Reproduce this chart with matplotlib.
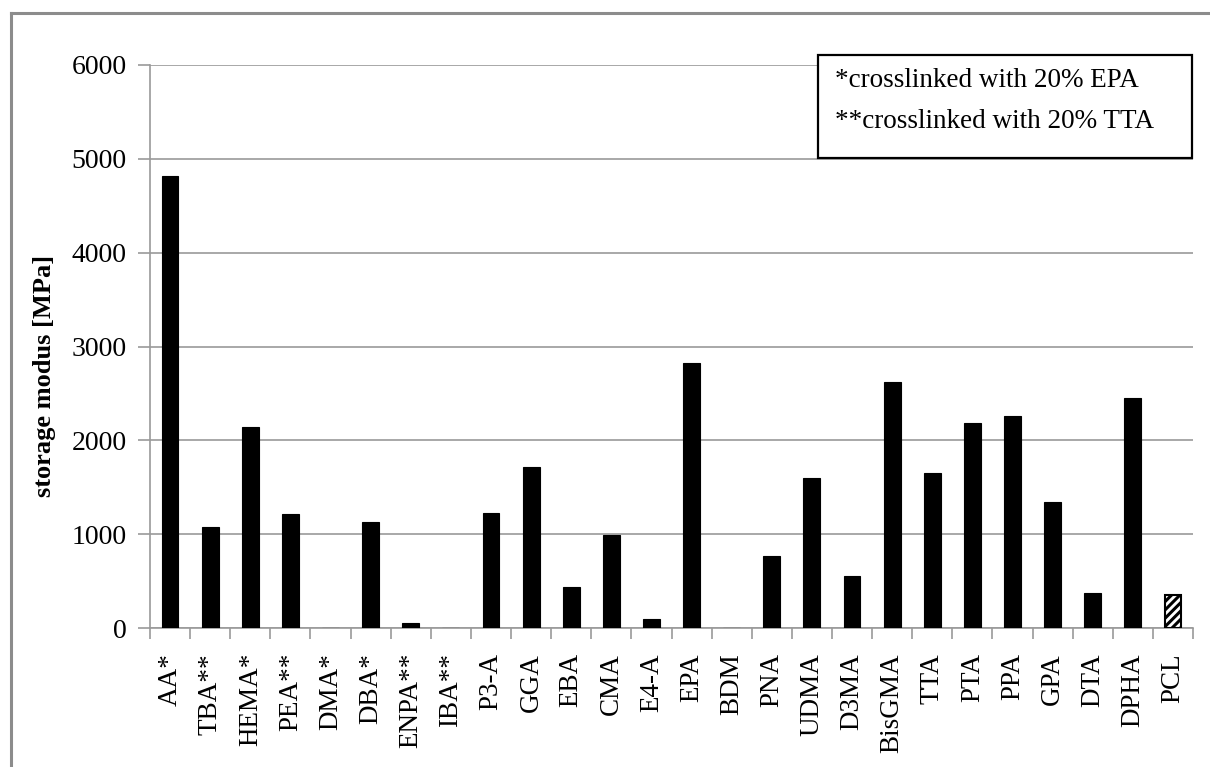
import matplotlib
matplotlib.use("Agg")
import matplotlib.pyplot as plt
from matplotlib.patches import Rectangle
from matplotlib.lines import Line2D
import numpy as np

plt.rcParams["font.family"] = ["Liberation Serif", "DejaVu Serif"]
plt.rcParams["hatch.linewidth"] = 2.2

# Storage modulus per monomer (MPa)
categories = ["AA*", "TBA**", "HEMA*", "PEA**", "DMA*", "DBA*", "ENPA**", "IBA**",
              "P3-A", "GGA", "EBA", "CMA", "E4-A", "EPA", "BDM", "PNA", "UDMA",
              "D3MA", "BisGMA", "TTA", "PTA", "PPA", "GPA", "DTA", "DPHA", "PCL"]
modulus = [4820, 1080, 2140, 1220, 0, 1130, 55, 0,
           1230, 1720, 435, 995, 95, 2820, 0, 770, 1600,
           550, 2620, 1650, 2180, 2260, 1340, 370, 2450, 350]
hatched = ["PCL"]
yticks = [0, 1000, 2000, 3000, 4000, 5000, 6000]
legend_lines = ["*crosslinked with 20% EPA", "**crosslinked with 20% TTA"]
ylabel = "storage modus [MPa]"

W, H = 1210, 767
fig = plt.figure(figsize=(W / 100, H / 100), dpi=100)
ax = fig.add_axes([150 / W, 1 - 628 / H, (1193 - 150) / W, (628 - 65) / H])

grey = "#9a9a9a"
x = np.arange(len(categories))
for xi, cat, val in zip(x, categories, modulus):
    if cat in hatched:
        ax.bar(xi, val, width=0.42, color="white", edgecolor="black",
               hatch="////", linewidth=1.5, zorder=3)
    else:
        ax.bar(xi, val, width=0.42, color="black", edgecolor="black",
               linewidth=0.8, zorder=3)

ax.set_xlim(-0.5, len(categories) - 0.5)
ax.set_ylim(0, 6000)
ax.set_yticks(yticks)
ax.set_yticklabels([str(v) for v in yticks], fontsize=20)
ax.yaxis.grid(True, color=grey, linewidth=1.2, zorder=0)
ax.set_axisbelow(True)

ax.set_xticks(x)
ax.set_xticklabels(categories, rotation=90, fontsize=19.5, va="top")
ax.set_xticks(np.arange(len(categories) + 1) - 0.5, minor=True)
ax.tick_params(axis="x", which="major", length=0, pad=18)
ax.tick_params(axis="x", which="minor", length=8, color=grey, width=1.2)
ax.tick_params(axis="y", which="major", length=9, color=grey, width=1.2, pad=8)

for side in ["top", "right"]:
    ax.spines[side].set_visible(False)
for side in ["left", "bottom"]:
    ax.spines[side].set_color(grey)
    ax.spines[side].set_linewidth(1.2)

fig.text(45 / W, 1 - 376 / H, ylabel, rotation=90, fontsize=19,
         fontweight="bold", ha="center", va="center")

# Footnote box
fig.patches.append(Rectangle((818 / W, 1 - 158 / H), (1192 - 818) / W, (158 - 55) / H,
                             transform=fig.transFigure, facecolor="white",
                             edgecolor="black", linewidth=1.6, zorder=5))
fig.text(835 / W, 1 - 87 / H, legend_lines[0], fontsize=19.5, va="baseline", zorder=6)
fig.text(835 / W, 1 - 128 / H, legend_lines[1], fontsize=19.5, va="baseline", zorder=6)

# Frame around the figure
frame_color = "#8c8c8c"
fig.lines.append(Line2D([11 / W, 1.0], [1 - 13 / H, 1 - 13 / H], transform=fig.transFigure,
                        color=frame_color, linewidth=2.2))
fig.lines.append(Line2D([11 / W, 11 / W], [0, 1 - 13 / H], transform=fig.transFigure,
                        color=frame_color, linewidth=2.2))

fig.savefig("out.png", dpi=100, facecolor="white")
